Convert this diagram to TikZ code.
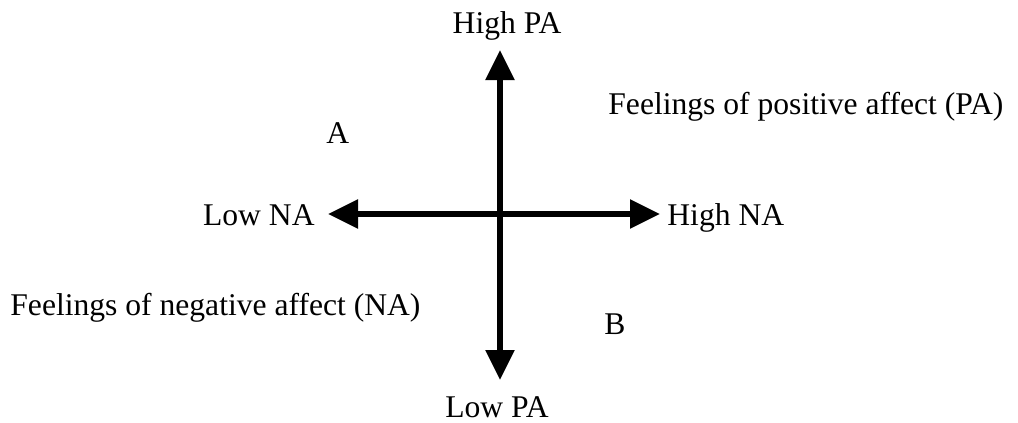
\documentclass[tikz,border=0pt]{standalone}
\usepackage{fontspec}
\setmainfont{Liberation Serif}
\usetikzlibrary{arrows.meta,positioning,calc}
\def\axisLineWidth{2.8pt}
\def\affectFontSize{15.8}

\tikzset{
  axisArrow/.style={line width=\axisLineWidth, -{Triangle[length=15pt,width=14pt]}},
  axisLabel/.style={inner sep=0pt, font=\fontsize{\affectFontSize}{19}\selectfont}
}

\begin{document}
\begin{tikzpicture}[x=0.5pt,y=-0.5pt]
  \useasboundingbox (0,0) rectangle (1018,423);

  \coordinate (PAtop) at (500,50);
  \coordinate (PAbot) at (500,380);
  \coordinate (NAleft) at (328,214);
  \coordinate (NAright) at (660,214);
  \coordinate (AXC) at (500,214);

  \draw[axisArrow] (AXC) -- (PAtop);
  \draw[axisArrow] (AXC) -- (PAbot);
  \draw[axisArrow] (AXC) -- (NAleft);
  \draw[axisArrow] (AXC) -- (NAright);

  \node[axisLabel, anchor=base] (HighPA) at (507,33) {High PA};
  \node[axisLabel, anchor=base] (LowPA) at (497,417) {Low PA};
  \node[axisLabel, anchor=base east] (LowNA) at (315,225) {Low NA};
  \node[axisLabel, anchor=base west] (HighNA) at (667,225) {High NA};

  \node[axisLabel, anchor=base west] (PAtext) at (608,114) {Feelings of positive affect (PA)};
  \node[axisLabel, anchor=base west] (NAtext) at (10,315) {Feelings of negative affect (NA)};
  \node[axisLabel, anchor=base west] (QA) at (326,143) {A};
  \node[axisLabel, anchor=base west] (QB) at (604,334) {B};

\end{tikzpicture}
\end{document}
